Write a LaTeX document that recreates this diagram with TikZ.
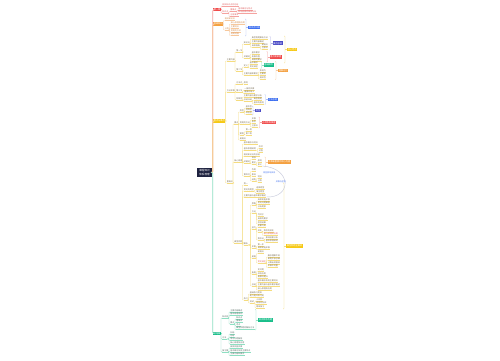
\documentclass[tikz,border=0pt]{standalone}
\usepackage{fontspec}
\setmainfont{Noto Sans CJK SC}
\definecolor{navy}{HTML}{1E2240}
\definecolor{cred}{HTML}{F04B4B}
\definecolor{lred}{HTML}{F5A3A0}
\definecolor{tred}{HTML}{E06060}
\definecolor{cora}{HTML}{F4A040}
\definecolor{lora}{HTML}{F7C89C}
\definecolor{tora}{HTML}{D08848}
\definecolor{cyel}{HTML}{F6C915}
\definecolor{lyel}{HTML}{F5DC7E}
\definecolor{tyel}{HTML}{7A6E55}
\definecolor{cgrn}{HTML}{19BE8A}
\definecolor{lgrn}{HTML}{8EDFC2}
\definecolor{tgrn}{HTML}{5A6E66}
\definecolor{cblu}{HTML}{3C6EF0}
\definecolor{lblu}{HTML}{A9BEF5}
\definecolor{cpur}{HTML}{4B4BC6}
\definecolor{lpur}{HTML}{B2B2E6}
\definecolor{cgry}{HTML}{C9CCDD}
\tikzset{
 tn/.style={anchor=south west,inner xsep=0.2pt,inner ysep=0.25pt,font=\fontsize{2}{2.3}\selectfont},
 sbox/.style={fill=#1,text=white,anchor=west,inner xsep=0.6pt,inner ysep=0.4pt,minimum height=3.6pt,font=\fontsize{2.2}{2.4}\selectfont},
 con/.style={draw=#1,line width=0.4pt,rounded corners=0.7pt},
 trunk/.style={draw=#1,line width=0.7pt,rounded corners=1.2pt},
 brk/.style={draw=#1,line width=0.35pt,rounded corners=0.6pt},
}
\newcommand\T[6]{\node[tn,text=#5] (#1) at (#2,#3+1) {#6};\draw[draw=#4,line width=0.35pt] (#1.south west) -- (#1.south east);}
\newcommand\Ty[4]{\T{#1}{#2}{#3}{lyel}{tyel}{#4}}
\newcommand\Tyr[4]{\T{#1}{#2}{#3}{lyel}{tred}{#4}}
\newcommand\Tr[4]{\T{#1}{#2}{#3}{lred}{tred}{#4}}
\newcommand\To[4]{\T{#1}{#2}{#3}{lora}{tora}{#4}}
\newcommand\Tg[4]{\T{#1}{#2}{#3}{lgrn}{tgrn}{#4}}
\newcommand\Cn[3]{\draw[con=#1] (#2.south east) -| ([xshift=-1pt]#3.south west) -- (#3.south west);}
\newcommand\Cb[3]{\draw[con=#1] (#2.east) -| ([xshift=-1pt]#3.south west) -- (#3.south west);}
\newcommand\Br[5]{\draw[brk=#1] (#2-1,#3) -- (#2,#3) -- (#2,#4) -- (#2-1,#4); \draw[brk=#1] (#5.west) -- ++(-2,0);}
\begin{document}
\begin{tikzpicture}[x=1pt,y=-1pt]
\fill[white] (0,0) rectangle (500,360);
\useasboundingbox (0,0) rectangle (500,360);
% root and level-1 boxes
\node[fill=navy,text=white,minimum width=15pt,minimum height=9pt,inner sep=0.5pt,align=center,font=\fontsize{2.6}{3.2}\selectfont] (root) at (204.5,172.5) {课程知识\\体系梳理};
\node[sbox=cred] (R) at (213,9.5) {第一章};
\node[sbox=cora] (O) at (213,24) {基础知识};
\node[sbox=cyel] (Y) at (213,121) {重点与难点};
\node[sbox=cgrn] (G) at (213,333.5) {总结篇};
\draw[trunk=lred] (root.east) -- ++(0.6,0) |- (R.west);
\draw[trunk=lyel] (root.east) -- ++(0.6,0) |- (Y.west);
\draw[trunk=lora] (root.east) -- ++(0.6,0) |- (O.west);
\draw[trunk=lgrn] (root.east) -- ++(0.6,0) |- (G.west);
% ---------------- red branch
\Tr{r1}{222}{5}{相关知识点的总结}
\Tr{r2}{222}{12}{知识点}
\Tr{r2a}{230}{10.5}{重难点}
\Tr{r2a1}{238}{9}{基本概念与特点}
\Tr{r2a2}{238}{12.5}{影响因素的具体分析}
\Tr{r2b}{230}{15.5}{注意事项}
\Cb{lred}{R}{r1}\Cb{lred}{R}{r2}
\Cn{lred}{r2}{r2a}\Cn{lred}{r2}{r2b}
\Cn{lred}{r2a}{r2a1}\Cn{lred}{r2a}{r2a2}
% ---------------- orange branch
\To{o1}{224.5}{19.5}{相关知识点}
\To{o2}{224.5}{29}{分类}
\To{o2a}{230.5}{23}{核心原理及应用}
\To{o2b}{230.5}{27}{主要特点}
\To{o2c}{230.5}{31}{常用的方法}
\To{o2d}{230.5}{34.5}{适用范围}
\Cb{lora}{O}{o1}\Cb{lora}{O}{o2}
\foreach \c in {o2a,o2b,o2c,o2d}{\Cn{lora}{o2}{\c}}
\node[sbox=cblu] (bo) at (248,27.5) {知识点归纳};
\Br{lblu}{246}{19}{36}{bo}
% ---------------- yellow branch: A
\Ty{A}{226.5}{60}{主要内容}
\Ty{A1}{236}{51}{第一节}
\Ty{A1a}{243.5}{43}{知识点}
\Ty{a1}{251.5}{38}{典型例题解析方法}
\Ty{a2}{251.5}{42}{主要内容概述}
\Ty{a3}{251.5}{46.5}{具体措施}
\Ty{a31}{261.5}{45}{易错点}
\Ty{a32}{261.5}{48.5}{注意点}
\Ty{A1b}{243.5}{57}{关键词}
\Ty{b1}{251.5}{53}{基本要求}
\Ty{b2}{251.5}{57}{发展历程}
\Ty{b3}{251.5}{60.5}{具体的要求}
\Ty{A2}{236}{70}{第二节}
\Ty{A2a}{243.5}{66}{定义}
\Ty{c1}{249.5}{63}{基本概念}
\Ty{c2}{249.5}{67}{常见误区}
\Ty{A2b}{243.5}{74}{主要内容和要求}
\Ty{d1}{259.5}{71}{表现为}
\Ty{d2}{259.5}{74.5}{主要有}
\Ty{d3}{259.5}{78}{相关性}
\Cb{lyel}{Y}{A}
\Cn{lyel}{A}{A1}\Cn{lyel}{A}{A2}
\Cn{lyel}{A1}{A1a}\Cn{lyel}{A1}{A1b}
\foreach \c in {a1,a2,a3}{\Cn{lyel}{A1a}{\c}}
\Cn{lyel}{a3}{a31}\Cn{lyel}{a3}{a32}
\foreach \c in {b1,b2,b3}{\Cn{lyel}{A1b}{\c}}
\Cn{lyel}{A2}{A2a}\Cn{lyel}{A2}{A2b}
\Cn{lyel}{A2a}{c1}\Cn{lyel}{A2a}{c2}
\foreach \c in {d1,d2,d3}{\Cn{lyel}{A2b}{\c}}
\node[sbox=cpur] (sp1) at (272.5,43.25) {要点总结};
\Br{lpur}{270.5}{36.5}{50}{sp1}
\node[sbox=cred] (sr1) at (269.5,56.75) {重点需掌握};
\Br{lred}{267.5}{51.5}{62}{sr1}
\node[sbox=cyel] (sy1) at (287,49.5) {核心考点};
\Br{lyel}{285}{36}{63}{sy1}
\node[sbox=cgrn] (sg1) at (263.5,65) {基础概念};
\Br{lgrn}{261.5}{61.5}{68.5}{sg1}
\node[sbox=cora] (so1) at (278,70.5) {理解记忆};
\Br{lora}{276}{61.5}{79.5}{so1}
% ---------------- yellow branch: B
\Ty{B}{226.5}{91}{方法步骤}
\Ty{B1}{236}{83}{方法论}
\Ty{B1a}{243.5}{83}{原则}
\Ty{B2}{236}{91}{第三节}
\Ty{B2a}{244}{89}{一般的步骤}
\Ty{B2b}{244}{92.5}{重要的意义}
\Ty{B3}{236}{99}{特殊性}
\Ty{B3a}{243.5}{96}{主要内容与要求分析}
\Ty{B3b}{243.5}{100}{总结归纳}
\Ty{B3b1}{253.5}{99.5}{典型例题}
\Ty{B3b2}{253.5}{103}{基本的原则}
\Cb{lyel}{Y}{B}
\foreach \c in {B1,B2,B3}{\Cn{lyel}{B}{\c}}
\Cn{lyel}{B1}{B1a}
\Cn{lyel}{B2}{B2a}\Cn{lyel}{B2}{B2b}
\Cn{lyel}{B3}{B3a}\Cn{lyel}{B3}{B3b}
\Cn{lyel}{B3b}{B3b1}\Cn{lyel}{B3b}{B3b2}
\node[sbox=cblu] (sb2) at (267.5,99.5) {方法总结};
\Br{lblu}{265.5}{94.5}{104.5}{sb2}
% ---------------- yellow branch: E
\Ty{E}{226.5}{182}{重难点}
\Ty{E1}{234}{123}{要点}
\Ty{E1a}{239.5}{111}{类型}
\Ty{e11}{245.5}{107}{基本型}
\Ty{e12}{245.5}{110}{特殊型}
\Ty{e13}{245.5}{113.5}{综合型}
\Ty{E1b}{239.5}{123}{常用的方法}
\Ty{e21}{251.5}{119}{步骤}
\Ty{e22}{251.5}{122.5}{条件}
\Ty{e23}{251.5}{126}{注意点}
\Ty{E1c}{239.5}{134}{案例}
\Ty{e31}{245.5}{130.5}{第一例}
\Ty{e32}{245.5}{134}{第二例}
\Ty{E1d}{239.5}{139}{易错点}
\Ty{E2}{234}{161}{核心原理}
\Ty{E2a}{243.5}{143}{基本概念与特点}
\Ty{E2b}{243.5}{149.5}{基本原理说明}
\Ty{e41}{258.5}{147.5}{形式}
\Ty{e42}{258.5}{151.5}{过程}
\Ty{E2c}{243.5}{155.5}{相关知识点的总结}
\Ty{E2d}{243.5}{162}{关键词}
\Ty{e51}{251.5}{158.5}{目标}
\Ty{e52}{251.5}{163}{要求}
\Ty{e521}{257.5}{161}{原则}
\Ty{e522}{257.5}{165}{意义}
\Ty{E2e}{243.5}{175}{第四节}
\Ty{e61}{251.5}{170.5}{作用}
\Ty{e62}{251.5}{175}{影响}
\Ty{e63}{251.5}{180}{结构}
\Ty{e631}{257.5}{177.5}{特点}
\Ty{e632}{257.5}{181}{分类}
\node[tn,text=cblu] (rel1) at (263,174) {相互影响关系};
\Ty{E3}{234}{242}{典型例题}
\Ty{E3a}{243.5}{184}{例一}
\Ty{E3b}{243.5}{190}{常见的题型}
\Ty{e71}{256}{188}{选择题型}
\Ty{e72}{256}{192}{填空题型}
\Ty{E3c}{243.5}{196}{主要内容与基本要求概述}
\Ty{E3d}{243.5}{244}{解析}
\Ty{f1}{251.5}{204}{思路}
\Ty{f11}{257.5}{200}{具体实施步骤}
\Ty{f12}{257.5}{203.5}{常见问题解答}
\Ty{f13}{257.5}{207.5}{分析题意}
\Ty{f2}{251.5}{212}{方法}
\Ty{f21}{257.5}{215.5}{列式子}
\Ty{f22}{257.5}{219}{具体的要求}
\Ty{f23}{257.5}{223}{检验结果}
\Ty{f3}{251.5}{228}{技巧}
\Ty{f31}{257.5}{226}{化繁为简}
\Ty{f32}{257.5}{231}{转化}
\Ty{f321}{263.5}{231}{等价的转化}
\Tyr{f322}{263.5}{234.5}{核心原理及应用}
\Ty{f33}{257.5}{239}{数形法}
\Ty{f331}{265.5}{238}{影响因素分析}
\Ty{f332}{265.5}{241.5}{基本原理说明}
\Ty{f4}{251.5}{247}{步骤}
\Ty{f41}{257.5}{245}{第一步}
\Ty{f42}{257.5}{248.5}{具体实施步骤}
\Ty{f5}{251.5}{257}{易错}
\Ty{f51}{257.5}{252.5}{易错点}
\Tyr{f52}{257.5}{262}{常见误区}
\Ty{f521}{267.5}{256}{概念理解不清}
\Ty{f522}{267.5}{259.5}{审题不够仔细}
\Ty{f523}{267.5}{263}{计算出现错误}
\Ty{f524}{267.5}{266.5}{步骤不完整}
\Ty{f6}{251.5}{273}{拓展}
\Ty{f61}{257.5}{270.5}{变式题}
\Ty{f62}{257.5}{274}{综合应用}
\Ty{f63}{257.5}{277.5}{拓展与提升}
\Ty{f7}{251.5}{285}{总结}
\Ty{f71}{257.5}{281.5}{基本概念及其主要特点}
\Ty{f72}{257.5}{285.5}{主要内容与基本要求概述}
\Ty{f73}{257.5}{289}{核心原理及应用}
\Ty{E3e}{243.5}{299}{练习}
\Ty{g1}{249.5}{293}{基础练习题目}
\Ty{g2}{249.5}{296.5}{能力提升练习题}
\Ty{g3}{249.5}{302}{测试}
\Ty{g31}{256}{300}{小测验}
\Ty{g32}{256}{303.5}{综合的测试}
\Ty{g33}{256}{307}{期末复习}
\Cb{lyel}{Y}{E}
\foreach \c in {E1,E2,E3}{\Cn{lyel}{E}{\c}}
\foreach \c in {E1a,E1b,E1c,E1d}{\Cn{lyel}{E1}{\c}}
\foreach \c in {e11,e12,e13}{\Cn{lyel}{E1a}{\c}}
\foreach \c in {e21,e22,e23}{\Cn{lyel}{E1b}{\c}}
\foreach \c in {e31,e32}{\Cn{lyel}{E1c}{\c}}
\foreach \c in {E2a,E2b,E2c,E2d,E2e}{\Cn{lyel}{E2}{\c}}
\foreach \c in {e41,e42}{\Cn{lyel}{E2b}{\c}}
\foreach \c in {e51,e52}{\Cn{lyel}{E2d}{\c}}
\foreach \c in {e521,e522}{\Cn{lyel}{e52}{\c}}
\foreach \c in {e61,e62,e63}{\Cn{lyel}{E2e}{\c}}
\foreach \c in {e631,e632}{\Cn{lyel}{e63}{\c}}
\foreach \c in {E3a,E3b,E3c,E3d,E3e}{\Cn{lyel}{E3}{\c}}
\foreach \c in {e71,e72}{\Cn{lyel}{E3b}{\c}}
\foreach \c in {f1,f2,f3,f4,f5,f6,f7}{\Cn{lyel}{E3d}{\c}}
\foreach \c in {f11,f12,f13}{\Cn{lyel}{f1}{\c}}
\foreach \c in {f21,f22,f23}{\Cn{lyel}{f2}{\c}}
\foreach \c in {f31,f32,f33}{\Cn{lyel}{f3}{\c}}
\foreach \c in {f321,f322}{\Cn{lyel}{f32}{\c}}
\foreach \c in {f331,f332}{\Cn{lyel}{f33}{\c}}
\foreach \c in {f41,f42}{\Cn{lyel}{f4}{\c}}
\foreach \c in {f51,f52}{\Cn{lyel}{f5}{\c}}
\foreach \c in {f521,f522,f523,f524}{\Cn{lyel}{f52}{\c}}
\foreach \c in {f61,f62,f63}{\Cn{lyel}{f6}{\c}}
\foreach \c in {f71,f72,f73}{\Cn{lyel}{f7}{\c}}
\foreach \c in {g1,g2,g3}{\Cn{lyel}{E3e}{\c}}
\foreach \c in {g31,g32,g33}{\Cn{lyel}{g3}{\c}}
\node[sbox=cpur] (sp2) at (255,110.5) {类型};
\Br{lpur}{253}{106}{115}{sp2}
\node[sbox=cred] (sr2) at (261.5,122.5) {必须熟练掌握};
\Br{lred}{259.5}{117}{128}{sr2}
\node[sbox=cora] (so2) at (267.5,162) {本章最重要的核心内容};
\Br{lora}{265.5}{157}{167}{so2}
\node[sbox=cyel] (sy2) at (286,246) {典型例题全解析};
\Br{lyel}{284}{183}{309}{sy2}
% relationship curve
\draw[cgry,line width=0.45pt] (e522.south east) .. controls (292,168) and (292,198) .. (E3c.south east);
\node[tn,text=cblu,anchor=west] (rel2) at (275.5,182) {关联与区别};
% ---------------- green branch
\Tg{G1}{222}{317}{知识网}
\Tg{h1}{230}{311}{主要内容概述}
\Tg{h2}{230}{314.5}{基本原理说明}
\Tg{G1c}{230}{323}{要点}
\Tg{h31}{236}{318}{知识点}
\Tg{h32}{236}{321.5}{重难点}
\Tg{h33}{236}{325}{考点}
\Tg{h34}{236}{328.5}{典型例题的解析方法}
\Tg{G2}{222}{338}{方法}
\Tg{h41}{230}{333}{归纳}
\Tg{h42}{230}{336}{总结}
\Tg{h43}{230}{339.5}{常见问题解答}
\Tg{h44}{230}{343}{核心原理及应用}
\Tg{G3}{222}{351}{复习篇}
\Tg{h51}{230}{347}{具体实施步骤}
\Tg{h52}{230}{351}{基本概念及其主要特点}
\Tg{h53}{230}{354.5}{主要内容和要求}
\foreach \c in {G1,G2,G3}{\Cb{lgrn}{G}{\c}}
\foreach \c in {h1,h2,G1c}{\Cn{lgrn}{G1}{\c}}
\foreach \c in {h31,h32,h33,h34}{\Cn{lgrn}{G1c}{\c}}
\foreach \c in {h41,h42,h43,h44}{\Cn{lgrn}{G2}{\c}}
\foreach \c in {h51,h52,h53}{\Cn{lgrn}{G3}{\c}}
\node[sbox=cgrn] (sg2) at (258,319.75) {知识体系构建};
\Br{lgrn}{256}{309.5}{330}{sg2}
\end{tikzpicture}
\end{document}
